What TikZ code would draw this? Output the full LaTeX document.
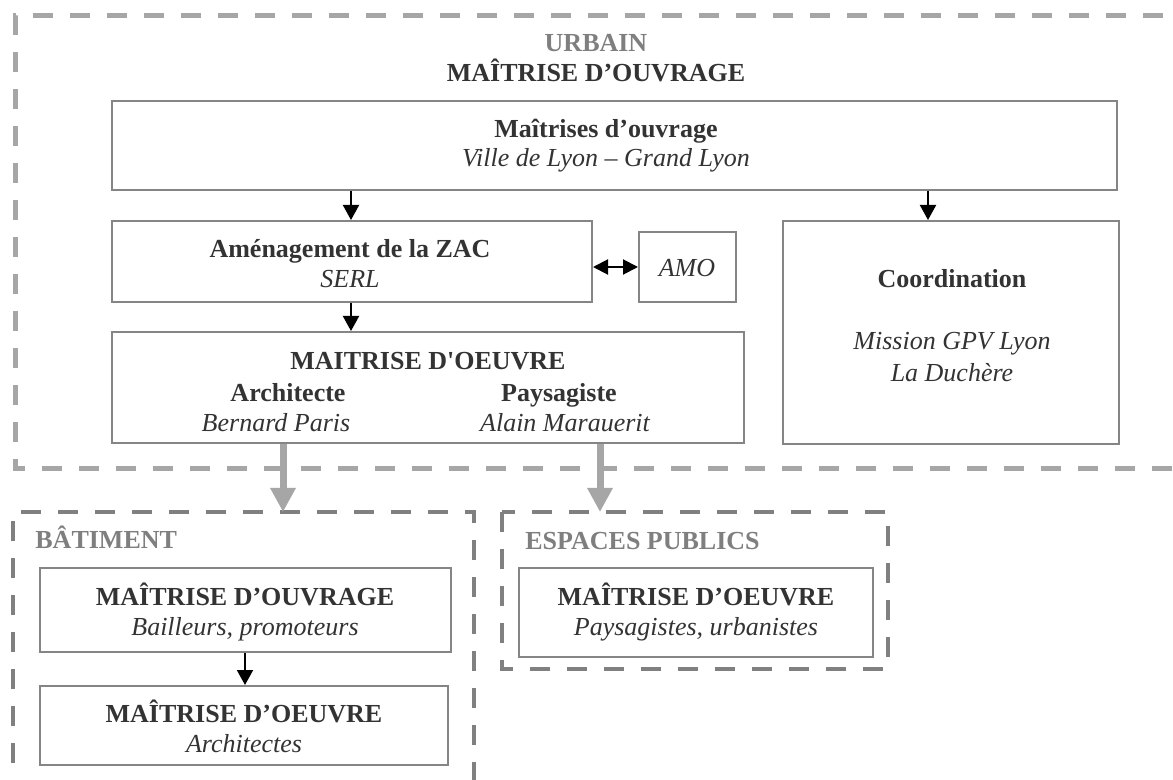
\documentclass[tikz,border=0pt]{standalone}
\usepackage{fontspec}
\setmainfont{Liberation Serif}
\usetikzlibrary{arrows.meta}
\definecolor{txt}{HTML}{333333}
\definecolor{boxgray}{HTML}{858585}
\definecolor{lightdash}{HTML}{A6A6A6}
\definecolor{darkdash}{HTML}{808080}
\definecolor{labelgray}{HTML}{7F7F7F}
\definecolor{flowgray}{HTML}{A6A6A6}
\begin{document}
\begin{tikzpicture}[x=0.5pt,y=-0.5pt,
  box/.style={draw=boxgray, line width=1pt, rectangle, inner sep=0pt, fill=none},
  tb/.style={anchor=base, inner sep=0pt, text=txt, font=\fontsize{13}{15}\selectfont\bfseries},
  ti/.style={anchor=base, inner sep=0pt, text=txt, font=\fontsize{13}{15}\selectfont\itshape},
  tg/.style={anchor=base west, inner sep=0pt, text=labelgray, font=\fontsize{13}{15}\selectfont\bfseries},
  urbdash/.style={draw=lightdash, line width=2.5pt, dash pattern=on 10pt off 8.5pt},
  zonedash/.style={draw=darkdash, line width=2pt, dash pattern=on 10pt off 8.5pt},
  flow/.style={draw=black, line width=1pt, -{Triangle[width=8pt,length=7.5pt]}},
  biflow/.style={draw=black, line width=1pt, {Triangle[width=7.5pt,length=7.5pt]}-{Triangle[width=7.5pt,length=7.5pt]}},
  bigflow/.style={draw=flowgray, line width=3.5pt, -{Triangle[width=12pt,length=12pt]}}
]
\useasboundingbox (0,0) rectangle (1173,780);
\clip (0,0) rectangle (1173,780);
\fill[white] (0,0) rectangle (1173,780);

% zones
\draw[urbdash] (1200,16) -- (15,16) -- (15,469) -- (1200,469);
\draw[zonedash] (13,800) -- (13,512) -- (474,512) -- (474,800);
\draw[zonedash] (502,512) rectangle (888,669);

% zone titles
\node[tb, text=labelgray] (turb) at (596,52) {URBAIN};
\node[tb] (tmoa) at (596,82) {MAÎTRISE D’OUVRAGE};
\node[tg] (tbat) at (35,548) {BÂTIMENT};
\node[tg] (tesp) at (525,550) {ESPACES PUBLICS};

% boxes
\node[box, minimum width=502.5pt, minimum height=44.5pt] (top) at (614.5,145.5) {};
\node[box, minimum width=240pt, minimum height=40.5pt] (amen) at (352,261.5) {};
\node[box, minimum width=48.5pt, minimum height=35pt] (amo) at (687.5,267) {};
\node[box, minimum width=168pt, minimum height=111.5pt] (coord) at (951,332.5) {};
\node[box, minimum width=316pt, minimum height=55.5pt] (mo) at (428,387.5) {};
\node[box, minimum width=205.5pt, minimum height=42pt] (bmoa) at (245.5,610) {};
\node[box, minimum width=204pt, minimum height=39.5pt] (bmoe) at (244,725.5) {};
\node[box, minimum width=177pt, minimum height=44.5pt] (emoe) at (696,612.5) {};

% texts
\node[tb] (t1a) at (606,138) {Maîtrises d’ouvrage};
\node[ti] (t1b) at (606,167) {Ville de Lyon – Grand Lyon};
\node[tb] (t2a) at (350,258) {Aménagement de la ZAC};
\node[ti] (t2b) at (350,288) {SERL};
\node[ti] (t3) at (687,277) {AMO};
\node[tb] (t4a) at (952,288) {Coordination};
\node[ti] (t4b) at (952,350) {Mission GPV Lyon};
\node[ti] (t4c) at (952,382) {La Duchère};
\node[tb] (t5a) at (428,370) {MAITRISE D\textquotesingle OEUVRE};
\node[tb] (t5b) at (288,402) {Architecte};
\node[ti] (t5c) at (276,432) {Bernard Paris};
\node[tb] (t5d) at (559,402) {Paysagiste};
\node[ti] (t5e) at (565,432) {Alain Marauerit};
\node[tb] (t6a) at (245,605) {MAÎTRISE D’OUVRAGE};
\node[ti] (t6b) at (245,635) {Bailleurs, promoteurs};
\node[tb] (t7a) at (244,722) {MAÎTRISE D’OEUVRE};
\node[ti] (t7b) at (244,752) {Architectes};
\node[tb] (t8a) at (696,605) {MAÎTRISE D’OEUVRE};
\node[ti] (t8b) at (696,635) {Paysagistes, urbanistes};

% anchors for connectors
\coordinate (c1) at (351,0);
\coordinate (c2) at (928,0);
\coordinate (c3) at (283,0);
\coordinate (c4) at (600,0);
\coordinate (c5) at (245,0);
\coordinate (batTop) at (0,512);

% connectors
\draw[flow] (c1 |- top.south) -- (c1 |- amen.north);
\draw[flow] (c2 |- top.south) -- (c2 |- coord.north);
\draw[flow] (c1 |- amen.south) -- (c1 |- mo.north);
\draw[biflow] (amo.west -| amen.east) -- (amo.west);
\draw[flow] (c5 |- bmoa.south) -- (c5 |- bmoe.north);
\draw[bigflow] (c3 |- mo.south) -- (c3 |- batTop);
\draw[bigflow] (c4 |- mo.south) -- (c4 |- batTop);
\end{tikzpicture}
\end{document}
